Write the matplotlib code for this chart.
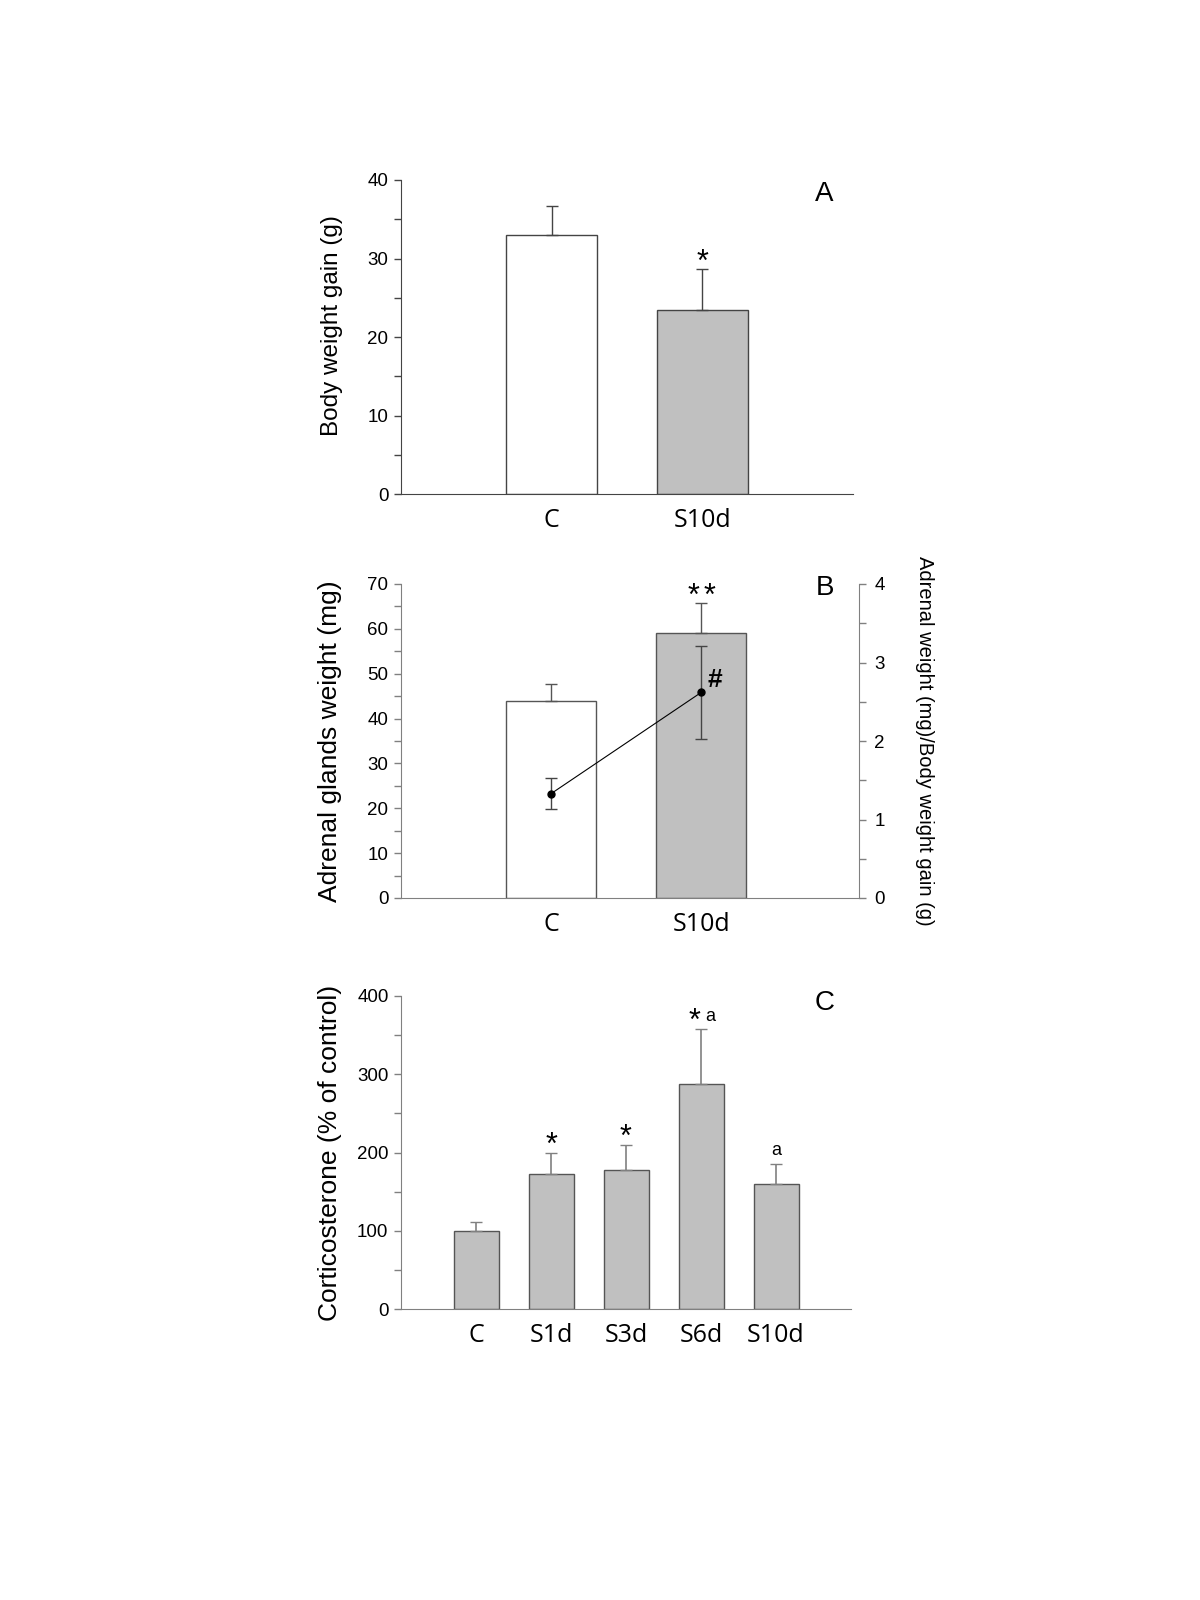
import matplotlib.pyplot as plt

# panel A: body weight gain
a_groups = ['C', 'S10d']
a_mean = [33.0, 23.5]
a_err = [3.7, 5.1]

# panel B: adrenal glands weight (bars) and ratio (line, right axis)
b_groups = ['C', 'S10d']
b_mean = [44.0, 59.0]
b_err = [3.6, 6.7]
b_ratio = [1.33, 2.62]
b_ratio_err = [0.20, 0.59]

# panel C: corticosterone
c_groups = ['C', 'S1d', 'S3d', 'S6d', 'S10d']
c_mean = [100, 172, 177, 288, 160]
c_err = [11, 28, 33, 70, 25]
c_marks = ['', '*', '*', '*a', 'a']

plt.rcParams['font.family'] = ['Liberation Sans', 'DejaVu Sans']
W, H = 1200, 1600
fig = plt.figure(figsize=(12, 16), dpi=100)


def make_ax(left, right, top, bottom):
    return fig.add_axes([left / W, 1 - bottom / H, (right - left) / W, (bottom - top) / H])


def style(ax, col):
    ax.spines['top'].set_visible(False)
    ax.spines['right'].set_visible(False)
    ax.spines['left'].set_color(col)
    ax.spines['bottom'].set_color(col)
    ax.tick_params(axis='y', which='both', direction='out', length=5, width=1, colors=col,
                   labelcolor='black', labelsize=13.5, pad=4)
    ax.tick_params(axis='x', length=0, pad=10)
    for t in ax.get_xticklabels():
        t.set_fontfamily('Open Sans')
        t.set_fontsize(18)


def star(ax, x, y, txt, dx=0):
    ax.annotate(txt, xy=(x, y), xytext=(dx, -1), textcoords='offset points',
                ha='center', va='baseline', fontsize=22)


def small_a(ax, x, y, dx=0, dy=6.5):
    ax.annotate('a', xy=(x, y), xytext=(dx, dy), textcoords='offset points',
                ha='center', va='baseline', fontsize=13)


gray = '#c0c0c0'

# ---- A ----
axA = make_ax(401, 853, 180, 494)
xa = [1, 2]
axA.bar(xa, a_mean, width=0.6, color=['white', gray], edgecolor='#444444', linewidth=1)
axA.errorbar(xa, a_mean, yerr=[[0, 0], a_err], fmt='none', ecolor='#444444',
             elinewidth=1, capsize=4, capthick=1)
axA.set_xlim(0, 3)
axA.set_ylim(0, 40)
axA.set_yticks([0, 10, 20, 30, 40])
axA.set_yticks([5, 15, 25, 35], minor=True)
axA.set_xticks(xa)
axA.set_xticklabels(a_groups)
style(axA, '#444444')
axA.set_ylabel('Body weight gain (g)', fontsize=17.5)
axA.yaxis.set_label_coords(-0.128, 0.535)
star(axA, 2, a_mean[1] + a_err[1], '*')
axA.text(0.937, 0.955, 'A', transform=axA.transAxes, ha='center', va='center', fontsize=20)

# ---- B ----
axB = make_ax(401, 859, 584, 898)
xb = [1, 2]
axB.bar(xb, b_mean, width=0.6, color=['white', gray], edgecolor='#555555', linewidth=1)
axB.errorbar(xb, b_mean, yerr=[[0, 0], b_err], fmt='none', ecolor='#555555',
             elinewidth=1, capsize=4, capthick=1)
axB.set_xlim(0, 3.05)
axB.set_ylim(0, 70)
axB.set_yticks(range(0, 71, 10))
axB.set_yticks(range(5, 70, 10), minor=True)
axB.set_xticks(xb)
axB.set_xticklabels(b_groups)
style(axB, '#808080')
axB.set_ylabel('Adrenal glands weight (mg)', fontsize=19)
axB.yaxis.set_label_coords(-0.128, 0.5)
star(axB, 2, b_mean[1] + b_err[1], '*', dx=-5.8)
star(axB, 2, b_mean[1] + b_err[1], '*', dx=5.8)
axB.text(0.925, 0.987, 'B', transform=axB.transAxes, ha='center', va='center', fontsize=20)

axB2 = axB.twinx()
axB2.errorbar(xb, b_ratio, yerr=b_ratio_err, color='black', lw=0.8, marker='o', ms=5,
              ecolor='#444444', elinewidth=1, capsize=4, capthick=1)
axB2.set_ylim(0, 4)
axB2.set_yticks([0, 1, 2, 3, 4])
axB2.set_yticks([0.5, 1.5, 2.5, 3.5], minor=True)
for s in ['top', 'left', 'bottom']:
    axB2.spines[s].set_visible(False)
axB2.spines['right'].set_color('#808080')
axB2.tick_params(axis='y', which='both', direction='out', length=5, width=1, colors='#808080',
                 labelcolor='black', labelsize=13.5, pad=6)
axB2.set_ylabel('Adrenal weight (mg)/Body weight gain (g)', fontsize=14.5, rotation=-90)
axB2.yaxis.set_label_coords(1.164, 0.5)
axB2.text(2.09, 2.78, '#', ha='center', va='center', fontsize=19, fontweight='bold')

# ---- C ----
axC = make_ax(401, 851, 996, 1309)
xc = [1, 2, 3, 4, 5]
axC.bar(xc, c_mean, width=0.6, color=gray, edgecolor='#555555', linewidth=1)
axC.errorbar(xc, c_mean, yerr=[[0] * 5, c_err], fmt='none', ecolor='#808080',
             elinewidth=1.2, capsize=4, capthick=1)
axC.set_xlim(0, 6)
axC.set_ylim(0, 400)
axC.set_yticks([0, 100, 200, 300, 400])
axC.set_yticks([50, 150, 250, 350], minor=True)
axC.set_xticks(xc)
axC.set_xticklabels(c_groups)
style(axC, '#808080')
axC.set_ylabel('Corticosterone (% of control)', fontsize=19)
axC.yaxis.set_label_coords(-0.131, 0.5)
for x, m, e, t in zip(xc, c_mean, c_err, c_marks):
    if t == '*':
        star(axC, x, m + e, '*')
    elif t == 'a':
        small_a(axC, x, m + e)
    elif t == '*a':
        star(axC, x, m + e, '*', dx=-5)
        small_a(axC, x, m + e, dx=7, dy=6)
axC.text(0.941, 0.978, 'C', transform=axC.transAxes, ha='center', va='center', fontsize=20)

fig.savefig('out.png', dpi=100)
